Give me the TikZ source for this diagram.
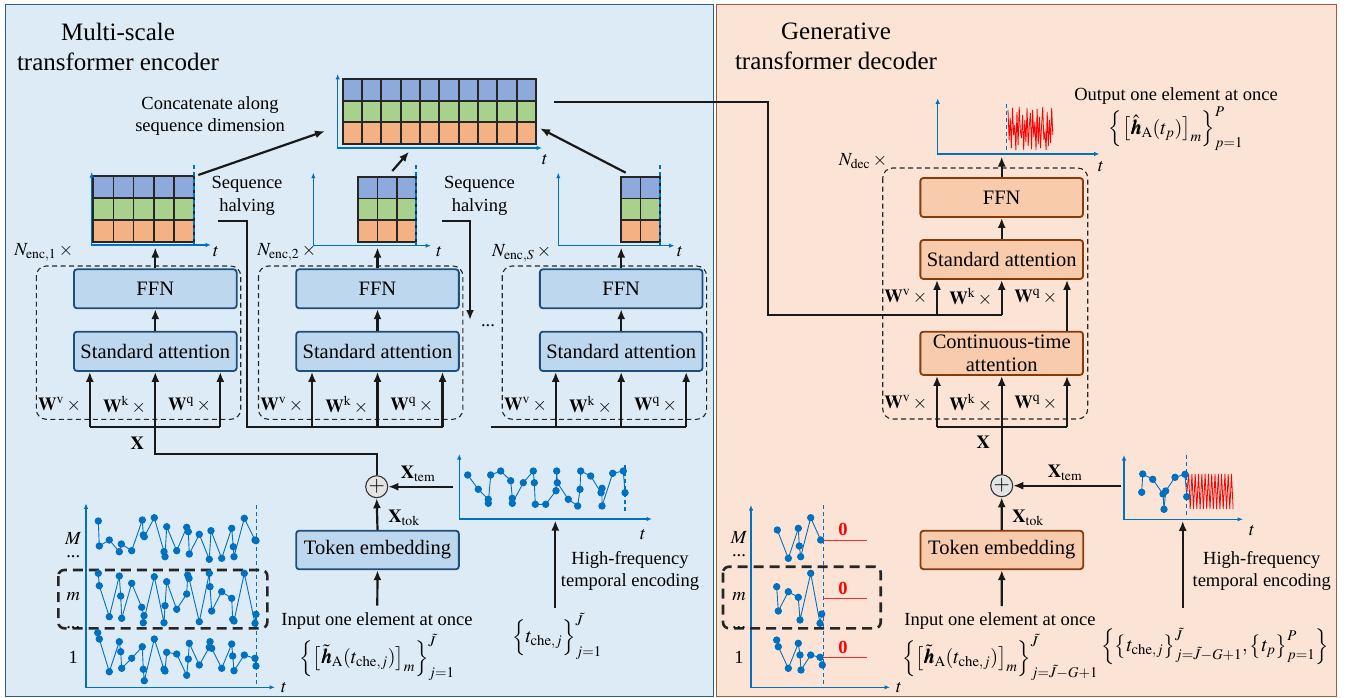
\documentclass[tikz,border=0pt]{standalone}
\usepackage{amsmath}
\usepackage{mathptmx}
\usepackage{bm}
\usepackage{fontspec}
\setmainfont{Liberation Serif}
\usetikzlibrary{arrows.meta}
\definecolor{panelL}{RGB}{221,235,247}
\definecolor{panelLb}{RGB}{50,90,135}
\definecolor{panelR}{RGB}{251,228,214}
\definecolor{panelRb}{RGB}{150,95,65}
\definecolor{encfill}{RGB}{189,215,238}
\definecolor{encborder}{RGB}{31,78,121}
\definecolor{decfill}{RGB}{248,203,173}
\definecolor{decborder}{RGB}{132,60,12}
\definecolor{axblue}{RGB}{0,112,192}
\definecolor{gblue}{RGB}{142,169,219}
\definecolor{ggreen}{RGB}{169,209,142}
\definecolor{gorange}{RGB}{244,177,131}
\definecolor{plusfill}{RGB}{228,228,228}
\newcommand\boxfont{\fontsize{20.5}{23.5}\selectfont}
\newcommand\lblfont{\fontsize{18.5}{22.5}\selectfont}
\newcommand\mfont{\fontsize{20}{22}\selectfont}
\newcommand\ttlfont{\fontsize{25}{30}\selectfont}
\newcommand\cellgrid[5]{%
  \foreach \rr/\cc in {0/gblue,1/ggreen,2/gorange}{
    \foreach \kk in {1,...,#3}{
      \draw[cell, fill=\cc] ({#1+(\kk-1)*#4},{#2+\rr*#5}) rectangle ++(#4,#5);
    }}}
\begin{document}
\begin{tikzpicture}[x=1pt,y=-1pt,
  conn/.style={line width=2.2pt, draw=black!90},
  arr/.style={conn, -{Latex[length=10pt,width=8pt]}},
  encbox/.style={draw=encborder, fill=encfill, line width=1.8pt, rounded corners=3pt, minimum width=162.7pt, minimum height=39pt, inner sep=0pt, font=\boxfont},
  decbox/.style={draw=decborder, fill=decfill, line width=1.8pt, rounded corners=3pt, minimum width=162.7pt, minimum height=39pt, inner sep=0pt, font=\boxfont},
  lbl/.style={font=\lblfont, inner sep=0pt},
  mth/.style={font=\mfont, inner sep=0pt},
  ttl/.style={font=\ttlfont, inner sep=0pt, align=center},
  axs/.style={draw=axblue, line width=1.3pt, {Latex[length=5.5pt,width=4.5pt]}-{Latex[length=5.5pt,width=4.5pt]}},
  vdash/.style={draw=axblue, line width=1.3pt, dash pattern=on 4pt off 3pt},
  ser/.style={draw=axblue, line width=0.9pt, mark=*, mark size=3.2pt, mark options={fill=axblue, draw=axblue, solid}},
  noise/.style={draw=red, line width=0.8pt},
  dbox/.style={draw=black!85, line width=1.1pt, dash pattern=on 5pt off 3.5pt, rounded corners=10pt},
  mbox/.style={draw=black!85, line width=2.6pt, dash pattern=on 10pt off 6pt, rounded corners=6pt},
  cell/.style={draw=black!85, line width=1.8pt},
  plusnode/.style={circle, draw=black!80, line width=1.1pt, fill=plusfill, minimum size=22pt, inner sep=0pt, font=\fontsize{21}{21}\selectfont},
  zero/.style={font=\lblfont\bfseries, text=red, inner sep=0pt}
]
\useasboundingbox (0,0) rectangle (1351,698);
% panels
\draw[fill=panelL, draw=panelLb, line width=1pt] (5,5) rectangle (713,696);
\draw[fill=panelR, draw=panelRb, line width=1pt] (716.5,5) rectangle (1336,696);
% titles
\node[ttl] (t1) at (118,46.5) {Multi-scale\\transformer encoder};
\node[ttl] (t2) at (836,46.5) {Generative\\transformer decoder};

% ===== concatenated grid =====
\cellgrid{342.7}{79}{10}{19.33}{21.67}
\draw[axs] (337.7,74) -- (337.7,148) -- (542,148);
\node[lbl] (tc) at (545,160) {$t$};
\node[lbl, align=center] (concatlbl) at (210,116) {Concatenate along\\sequence dimension};
\coordinate (cin1) at (325,131);
\coordinate (cin2) at (409,151.7);
\coordinate (cin3) at (540,128.3);
\coordinate (cout) at (554,101.7);

% ===== encoder blocks =====
\foreach \i/\cx in {1/155.3,2/377.5,3/621.2}{
  \draw[dbox] (\cx-119,266) rectangle (\cx+85.4,419.3);
  \node[encbox] (ffn\i) at (\cx,288.8) {FFN};
  \node[encbox, minimum height=39.3pt] (att\i) at (\cx,351.3) {Standard attention};
  \draw[arr] (att\i.north) -- (ffn\i.south);
  \node[lbl, anchor=east] (wv\i) at (\cx-71.5,405) {$\mathbf{W}^{\mathrm{v}}\times{}$};
  \node[lbl, anchor=east] (wk\i) at (\cx-6.5,405) {$\mathbf{W}^{\mathrm{k}}\times{}$};
  \node[lbl, anchor=east] (wq\i) at (\cx+58.5,405) {$\mathbf{W}^{\mathrm{q}}\times{}$};
  \draw[arr] (\cx-65.5,426.7) -- (\cx-65.5,426.7 |- att\i.south);
  \draw[arr] (\cx,426.7) -- (att\i.south);
  \draw[arr] (\cx+65,426.7) -- (\cx+65,426.7 |- att\i.south);
  \coordinate (fo\i) at (\cx,247.5);
  \draw[arr] (ffn\i.north) -- (fo\i);
}
\node[lbl, anchor=east] (n1) at (76,252) {$N_{\mathrm{enc},1}\times{}$};
\node[lbl, anchor=east] (n2) at (319,252) {$N_{\mathrm{enc},2}\times{}$};
\node[lbl, anchor=east] (n3) at (554,253) {$N_{\mathrm{enc},S}\times{}$};

% grid 1
\cellgrid{93.3}{176}{5}{20.14}{21.9}
\draw[axs] (91.7,172) -- (91.7,245) -- (211,245);
\draw[vdash] (194,165) -- (194,245);
\node[lbl] (tg1) at (216,252) {$t$};
% grid 2
\cellgrid{358.3}{176.7}{3}{19.23}{21.77}
\draw[axs] (313.3,172.7) -- (313.3,245.7) -- (431,245.7);
\draw[vdash] (416,165) -- (416,245.7);
\node[lbl] (tg2) at (439.3,252) {$t$};
% grid 3
\cellgrid{621}{176.7}{2}{19.5}{21.77}
\draw[axs] (558.3,172.7) -- (558.3,245.7) -- (674.5,245.7);
\draw[vdash] (660,165) -- (660,245.7);
\node[lbl] (tg3) at (680,252) {$t$};

% grids to concat
\coordinate (g1o) at (198.3,175);
\coordinate (g2o) at (392.3,171);
\coordinate (g3o) at (625.7,172.7);
\draw[arr] (g1o) -- (cin1);
\draw[arr] (g2o) -- (cin2);
\draw[arr] (g3o) -- (cin3);

% sequence halving
\node[lbl, align=center] (sh1) at (247,196) {Sequence\\halving};
\node[lbl, align=center] (sh2) at (479.5,196) {Sequence\\halving};
\coordinate (h1s) at (217.7,220.7);
\coordinate (h2s) at (442.3,220.7);
\coordinate (h2e) at (470,320);
\draw[conn] (h1s) -- (247.3,220.7) -- (247.3,426.7) -- (442.5,426.7);
\draw[arr] (h2s) -- (470,220.7) -- (h2e);
\node[lbl] (ell) at (488,326) {...};
\draw[conn] (89.8,426.7) -- (220.3,426.7);
\draw[conn] (490.7,426.7) -- (686.2,426.7);

% ===== encoder input =====
\node[plusnode] (eplus) at (376.7,486.7) {$+$};
\draw[conn] (eplus.north) |- (155.3,454) -- (155.3,426.7);
\node[lbl] (ex) at (137.3,443.3) {$\mathbf{X}$};
\node[encbox, minimum height=38.6pt] (etok) at (377.5,550) {Token embedding};
\draw[arr] (etok.north) -- (eplus.south);
\node[lbl] (extok) at (404,517.7) {$\mathbf{X}_{\mathrm{tok}}$};
\coordinate (etemo) at (453.3,486.7);
\draw[arr] (etemo) -- (eplus.east);
\node[lbl] (extem) at (418,474) {$\mathbf{X}_{\mathrm{tem}}$};
\coordinate (ein) at (377.3,605.7);
\draw[arr] (ein) -- (etok.south);
\node[lbl] (einl) at (377,621.5) {Input one element at once};
\node[mth] (einf) at (377,657) {$\Bigl\{\bigl[\tilde{\bm h}_{\mathrm A}(t_{\mathrm{che},j})\bigr]_m\Bigr\}_{j=1}^{\tilde J}$};

% encoder temporal plot
\draw[axs] (459.3,454) -- (459.3,519) -- (652,519);
\draw[vdash] (625,465) -- (625,513.3);
\draw[ser] plot coordinates {(467.7,475)(478.3,489.3)(488.3,499.3)(488.3,503.3)(490.7,475)(500.7,471)(510.7,480.7)(512.3,498.3)(512.3,503.3)(523.3,482.7)(533.3,471)(534.3,482.7)(535.3,504.3)(545.7,504.3)(556,490.7)(556.7,471)(557.3,482.7)(568.3,499.3)(577.7,506)(580,489.3)(580.7,471)(590.7,476)(601,492.7)(602,488.3)(602,506)(612.7,473.3)(623.3,471)(625,492.7)};
\node[lbl] (tet) at (643,535) {$t$};
\coordinate (etin) at (555.3,608);
\coordinate (etax) at (555.3,520.5);
\draw[arr] (etin) -- (etax);
\node[lbl, align=center] (ehf) at (630,571) {High-frequency\\temporal encoding};
\node[mth] (etf) at (557,636) {$\Bigl\{t_{\mathrm{che},j}\Bigr\}_{j=1}^{\tilde J}$};

% encoder input series plot
\draw[axs] (86,503.3) -- (86,687.3) -- (275,687.3);
\draw[vdash] (256.7,505) -- (256.7,687.3);
\node[lbl] (tel) at (284,688) {$t$};
\draw[mbox] (58.3,570) rectangle (267.3,628.3);
\node[lbl] (eM) at (73.3,538) {$M$};
\node[lbl] (ed1) at (73.3,557) {...};
\node[lbl] (em) at (73.3,597) {$m$};
\node[lbl] (ed2) at (73.3,628) {...};
\node[lbl] (e1) at (73.3,657) {1};
\draw[ser] plot coordinates {(98.3,521)(99.3,546)(109.3,540)(119.3,551.7)(121.3,544)(131.7,550.7)(142.3,520)(143.3,535)(144.3,536.7)(154.3,517.7)(164,551.7)(165,556.7)(166.7,526.7)(176.7,550.7)(186.7,527.3)(188.3,531.7)(189.3,554)(199.3,534.3)(209.3,559.3)(211,530.7)(221.7,558.3)(231.7,528.3)(233.3,546.7)(234,556.7)(244.3,518.3)(255,540)(256,540.7)};
\draw[ser] plot coordinates {(98.3,573.3)(99.3,585.7)(109.3,616.7)(119.3,576)(120.7,596)(121.7,618.3)(131.7,583.3)(141.7,607.3)(144,615.7)(143.3,622.7)(154.3,576.7)(164,622.7)(165,605.7)(166.7,581.7)(176.7,609.3)(186.7,594)(187.7,575)(189,578.3)(199.3,621.7)(209.3,573.3)(210,586.7)(211.7,611)(221.7,591.7)(231.7,598.3)(232.7,619.3)(234,621)(244.3,573.3)(255,623.3)(256,614.3)};
\draw[ser] plot coordinates {(97.7,632.7)(99.3,639)(109.3,671.7)(119.3,641.7)(120.7,651.7)(121.7,668.3)(131.7,658.3)(142.3,646.7)(143.3,669.3)(144.3,680.7)(154.3,639)(164,669.3)(165,671)(166.7,652.3)(176.7,654)(186.7,675.3)(188.3,659)(189.3,643.3)(199.3,665)(209.3,647.3)(210,641.7)(211.7,648.3)(221.7,668.3)(231.7,644)(232.7,656)(234,670.7)(244.3,655)(255,658.3)(256,666)};

% ===== decoder =====
\draw[conn] (cout) -- (768,101.7) -- (768,315) -- (1001.7,315);
\draw[dbox] (882.7,168) rectangle (1087.7,419);
\node[lbl, anchor=east] (ndec) at (890,161) {$N_{\mathrm{dec}}\times{}$};
\node[decbox] (dffn) at (1001.7,197.5) {FFN};
\node[decbox] (dsa) at (1001.7,259.5) {Standard attention};
\node[decbox, minimum height=43.3pt, align=center, font=\fontsize{20.5}{22.5}\selectfont] (dcta) at (1001.7,353.3) {Continuous-time\\attention};
\draw[arr] (dsa.north) -- (dffn.south);
\coordinate (oax) at (1001.7,156.5);
\draw[arr] (dffn.north) -- (oax);
\draw[arr] (dcta.north -| 1067,0) -- (dsa.south -| 1067,0);
\draw[arr] (937,315) -- (dsa.south -| 937,0);
\draw[arr] (1001.7,315) -- (dsa.south);
\draw[conn] (937,427) -- (1067,427);
\draw[arr] (937,427) -- (dcta.south -| 937,0);
\draw[arr] (1001.7,427) -- (dcta.south);
\draw[arr] (1067,427) -- (dcta.south -| 1067,0);
\foreach \yy/\r in {297/u,403/l}{
  \node[lbl, anchor=east] (dwv\r) at (930,\yy) {$\mathbf{W}^{\mathrm{v}}\times{}$};
  \node[lbl, anchor=east] (dwk\r) at (995,\yy) {$\mathbf{W}^{\mathrm{k}}\times{}$};
  \node[lbl, anchor=east] (dwq\r) at (1060,\yy) {$\mathbf{W}^{\mathrm{q}}\times{}$};
}
\node[plusnode] (dplus) at (1001.7,485.7) {$+$};
\draw[conn] (dplus.north) -- (1001.7,427);
\node[lbl] (dx) at (983.3,442.7) {$\mathbf{X}$};
\node[decbox, minimum height=38.4pt] (dtok) at (1001.8,550) {Token embedding};
\draw[arr] (dtok.north) -- (dplus.south);
\node[lbl] (dxtok) at (1028,517.7) {$\mathbf{X}_{\mathrm{tok}}$};
\coordinate (dtemo) at (1121,485.7);
\draw[arr] (dtemo) -- (dplus.east);
\node[lbl] (dxtem) at (1065,473) {$\mathbf{X}_{\mathrm{tem}}$};
\coordinate (din) at (1001.7,606);
\draw[arr] (din) -- (dtok.south);
\node[lbl] (dinl) at (1000,621.5) {Input one element at once};
\node[mth] (dinf) at (1000,657) {$\Bigl\{\bigl[\tilde{\bm h}_{\mathrm A}(t_{\mathrm{che},j})\bigr]_m\Bigr\}_{j=\tilde J-G+1}^{\tilde J}$};

% output plot
\draw[axs] (937.7,98.3) -- (937.7,154) -- (1099.5,154);
\draw[vdash] (1006.7,104) -- (1006.7,154);
\draw[noise] (1008,110) \foreach \yy [count=\k] in {140,118,148,108,135,125,150,112,145,107,130,138,115,150,120,142,108,146,126,113,149,110,137,122,150,109,144,117,148,125,107,140,132,150,112,146,120,143,108,135} {-- (1008+1.12*\k,\yy)};
\node[lbl] (tout) at (1101,167) {$t$};
\node[lbl] (outl) at (1176,96) {Output one element at once};
\node[mth] (outf) at (1176,129) {$\Bigl\{\bigl[\hat{\bm h}_{\mathrm A}(t_p)\bigr]_m\Bigr\}_{p=1}^P$};

% decoder temporal plot
\draw[axs] (1124,455) -- (1124,519.3) -- (1243,519.3);
\draw[vdash] (1186.7,455) -- (1186.7,516);
\draw[noise] (1187,492) \foreach \k in {0,...,13} {-- (1188.6+3.3*\k,474) -- (1190.2+3.3*\k,509)};
\draw[ser] plot coordinates {(1141.7,492.3)(1142.7,474)(1152.7,479.3)(1163,494)(1164,509.3)(1165.7,491)(1175,477.3)(1185,474.3)(1186.7,496.7)};
\node[lbl] (tdt) at (1252,531) {$t$};
\coordinate (dtin) at (1182.7,608);
\coordinate (dtax) at (1182.7,520.8);
\draw[arr] (dtin) -- (dtax);
\node[lbl, align=center] (dhf) at (1261.7,571) {High-frequency\\temporal encoding};
\node[mth] (dtf) at (1215,646) {$\Bigl\{\bigl\{t_{\mathrm{che},j}\bigr\}_{j=\tilde J-G+1}^{\tilde J},\bigl\{t_p\bigr\}_{p=1}^P\Bigr\}$};

% decoder input series plot
\draw[axs] (751,505) -- (751,687.3) -- (890,687.3);
\draw[vdash] (823.3,505) -- (823.3,687.3);
\node[lbl] (tdl) at (899,688) {$t$};
\draw[mbox] (723,566.7) rectangle (880.7,628.3);
\node[lbl] (dM) at (739,537) {$M$};
\node[lbl] (dd1) at (739,556) {...};
\node[lbl] (dm) at (739,597) {$m$};
\node[lbl] (dd2) at (739,628) {...};
\node[lbl] (d1) at (739,657) {1};
\draw[red!85, line width=1pt] (823.3,540) -- (866.7,540);
\draw[red!85, line width=1pt] (823.3,598) -- (866.7,598);
\draw[red!85, line width=1pt] (823.3,657) -- (866.7,657);
\node[zero] (z1) at (843,529) {0};
\node[zero] (z2) at (843,588) {0};
\node[zero] (z3) at (843,647.5) {0};
\draw[ser] plot coordinates {(777.3,530)(788.3,558.3)(798.3,528.3)(799.3,546)(800.7,556.7)(810.7,517.7)(820.7,540)};
\draw[ser] plot coordinates {(776.7,586.7)(778.3,611)(788.3,591.7)(798.3,597.3)(800,620)(810.7,573.3)(820,623.3)(821.7,614)};
\draw[ser] plot coordinates {(776.7,640)(778.3,646.7)(788.3,668.3)(798.3,643.3)(800,655)(801,670)(810.7,655)(820,657.3)(822.3,665)};
\end{tikzpicture}
\end{document}
